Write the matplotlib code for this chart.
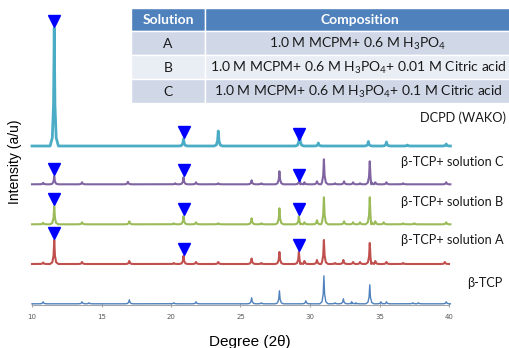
import numpy as np
import matplotlib
matplotlib.use("Agg")
import matplotlib.pyplot as plt
from matplotlib.patches import Rectangle

plt.rcParams['mathtext.default'] = 'regular'

dcpd_pos = [11.6, 20.9, 23.4, 29.25, 30.6, 34.2, 35.5, 37.0, 39.8]
dcpd_hgt = [118, 7, 15, 13, 3, 4.5, 4, 1, 2]

sol_c_pos = [10.8, 11.6, 13.6, 16.9, 20.3, 20.9, 21.8, 23.4, 25.8, 26.5, 27.8, 29.25,
             29.6, 30.5, 31.0, 31.8, 32.45, 33.1, 33.6, 34.3, 34.7, 35.5, 36.7, 39.8]
sol_c_hgt = [1.5, 8, 2, 2.5, 1, 7, 2, 1, 4, 1, 13, 6,
             2, 3, 25, 1, 3, 2, 1, 23, 2, 2, 1, 2]

sol_b_pos = [10.8, 11.6, 13.6, 17.0, 20.2, 20.9, 21.8, 23.4, 25.8, 26.5, 27.8, 29.2,
             29.6, 30.5, 31.0, 32.45, 33.1, 33.6, 34.3, 34.7, 35.3, 36.7, 37.5, 39.8]
sol_b_hgt = [1.5, 18, 2, 3, 1, 8, 2, 1, 6, 1, 16, 8,
             2, 4, 27, 3, 2, 2, 27, 3, 2, 1, 1, 2]

sol_a_pos = [10.8, 11.6, 13.6, 17.0, 20.2, 20.9, 21.8, 23.4, 25.8, 26.5, 27.8, 29.2,
             29.6, 30.5, 31.0, 31.8, 32.4, 33.1, 33.6, 34.3, 34.7, 35.5, 36.7, 39.7]
sol_a_hgt = [1.5, 24, 2, 3, 1, 8, 2, 2, 5.5, 1, 12, 12,
             3, 4, 24, 1, 4, 2, 2, 21, 3, 2, 1, 2]

tcp_pos = [10.8, 13.6, 14.1, 17.0, 20.2, 21.8, 25.8, 26.5, 27.8, 29.7, 31.0, 31.8,
           32.4, 33.0, 33.3, 34.3, 35.1, 35.5, 37.4, 37.8, 39.8]
tcp_hgt = [2, 2, 1, 4, 1, 2, 6, 1, 13, 3, 28, 1,
           5, 2, 1, 19, 2, 2, 1, 1, 2]

marker_pos = [11.6, 20.9, 29.2]

names = ['DCPD (WAKO)', 'β-TCP+ solution C', 'β-TCP+ solution B',
         'β-TCP+ solution A', 'β-TCP']
colors = ['#4BACC6', '#8064A2', '#9BBB59', '#C0504D', '#4F81BD']

solutions = ['A', 'B', 'C']
compositions = ['1.0 M MCPM+ 0.6 M H$_3$PO$_4$',
                '1.0 M MCPM+ 0.6 M H$_3$PO$_4$+ 0.01 M Citric acid',
                '1.0 M MCPM+ 0.6 M H$_3$PO$_4$+ 0.1 M Citric acid']


def pattern(pos, hgt):
    # narrow peak profile on a flat baseline
    rel_x = [-0.3, -0.14, -0.05, 0.0, 0.05, 0.14, 0.3]
    rel_y = [0.0, 0.07, 0.35, 1.0, 0.35, 0.07, 0.0]
    xs, ys = [10.0], [0.0]
    for p, h in zip(pos, hgt):
        for dx, fy in zip(rel_x, rel_y):
            xs.append(p + dx)
            ys.append(h * fy)
    xs.append(40.0)
    ys.append(0.0)
    order = np.argsort(xs)
    return np.array(xs)[order], np.array(ys)[order]


W, H = 510, 348
fig = plt.figure(figsize=(W / 100, H / 100), dpi=100)
ax = fig.add_axes([32 / W, 1 - 305 / H, (449 - 32) / W, 285 / H])
ax.set_xlim(10, 40)
ax.set_ylim(0, 285)

series = [(dcpd_pos, dcpd_hgt), (sol_c_pos, sol_c_hgt), (sol_b_pos, sol_b_hgt),
          (sol_a_pos, sol_a_hgt), (tcp_pos, tcp_hgt)]
offsets = [159, 120.7, 80.7, 41, 1.2]
widths = [2.0, 1.5, 1.5, 1.5, 1.0]
label_xy = [(420, 118), (401, 162), (401, 202), (401, 240), (467, 283)]

for i, (pos, hgt) in enumerate(series):
    x, y = pattern(pos, hgt)
    ax.plot(x, y + offsets[i], color=colors[i], lw=widths[i], solid_joinstyle='round',
            clip_on=False)
    if i < 4:
        ym = [np.interp(m, x, y) + offsets[i] + 7.5 for m in marker_pos]
        ax.plot(marker_pos, ym, linestyle='none', marker='v', ms=8, color='#0000FF',
                clip_on=False, zorder=5)

for s in ['left', 'right', 'top']:
    ax.spines[s].set_visible(False)
ax.spines['bottom'].set_color('#A6A6A6')
ax.set_yticks([])
ax.set_xticks(np.arange(10, 41, 5))
ax.tick_params(axis='x', direction='inout', length=3, color='#A6A6A6',
               labelsize=5, labelcolor='#595959', pad=5)
ax.patch.set_alpha(0)

# overlay in pixel units for table and annotations
ov = fig.add_axes([0, 0, 1, 1])
ov.set_xlim(0, W)
ov.set_ylim(H, 0)
ov.axis('off')
ov.patch.set_alpha(0)

for i, n in enumerate(names):
    ov.text(label_xy[i][0], label_xy[i][1], n, fontsize=9.2, family='Lato',
            ha='left', va='center', color='#1A1A1A')

ov.text(15, 162, 'Intensity (a/u)', rotation=90, fontsize=10,
        family='Liberation Sans', ha='center', va='center')
ov.text(250, 342, 'Degree (2θ)', fontsize=11, family='Liberation Sans',
        ha='center', va='center')

# table
col_x = [131, 205, 512]
row_y = [8, 31, 55, 79, 103]
row_cols = ['#D0D8E8', '#E9EDF4', '#D0D8E8']
for c in range(2):
    ov.add_patch(Rectangle((col_x[c], row_y[0]), col_x[c + 1] - col_x[c],
                           row_y[1] - row_y[0], facecolor='#4F81BD',
                           edgecolor='white', lw=1, clip_on=False))
ov.text((col_x[0] + col_x[1]) / 2, (row_y[0] + row_y[1]) / 2 + 1, 'Solution',
        color='white', fontweight='bold', fontsize=10, family='Lato',
        ha='center', va='center')
ov.text(360, (row_y[0] + row_y[1]) / 2 + 1, 'Composition',
        color='white', fontweight='bold', fontsize=10, family='Lato',
        ha='center', va='center')
for r in range(3):
    for c in range(2):
        ov.add_patch(Rectangle((col_x[c], row_y[r + 1]), col_x[c + 1] - col_x[c],
                               row_y[r + 2] - row_y[r + 1], facecolor=row_cols[r],
                               edgecolor='white', lw=1, clip_on=False))
    yc = (row_y[r + 1] + row_y[r + 2]) / 2 + 1
    ov.text((col_x[0] + col_x[1]) / 2, yc, solutions[r], fontsize=10, family='Lato',
            ha='center', va='center', color='#1A1A1A')
    ov.text(358, yc, compositions[r], fontsize=10, family='Lato',
            ha='center', va='center', color='#1A1A1A')

fig.savefig('out.png', dpi=100)
